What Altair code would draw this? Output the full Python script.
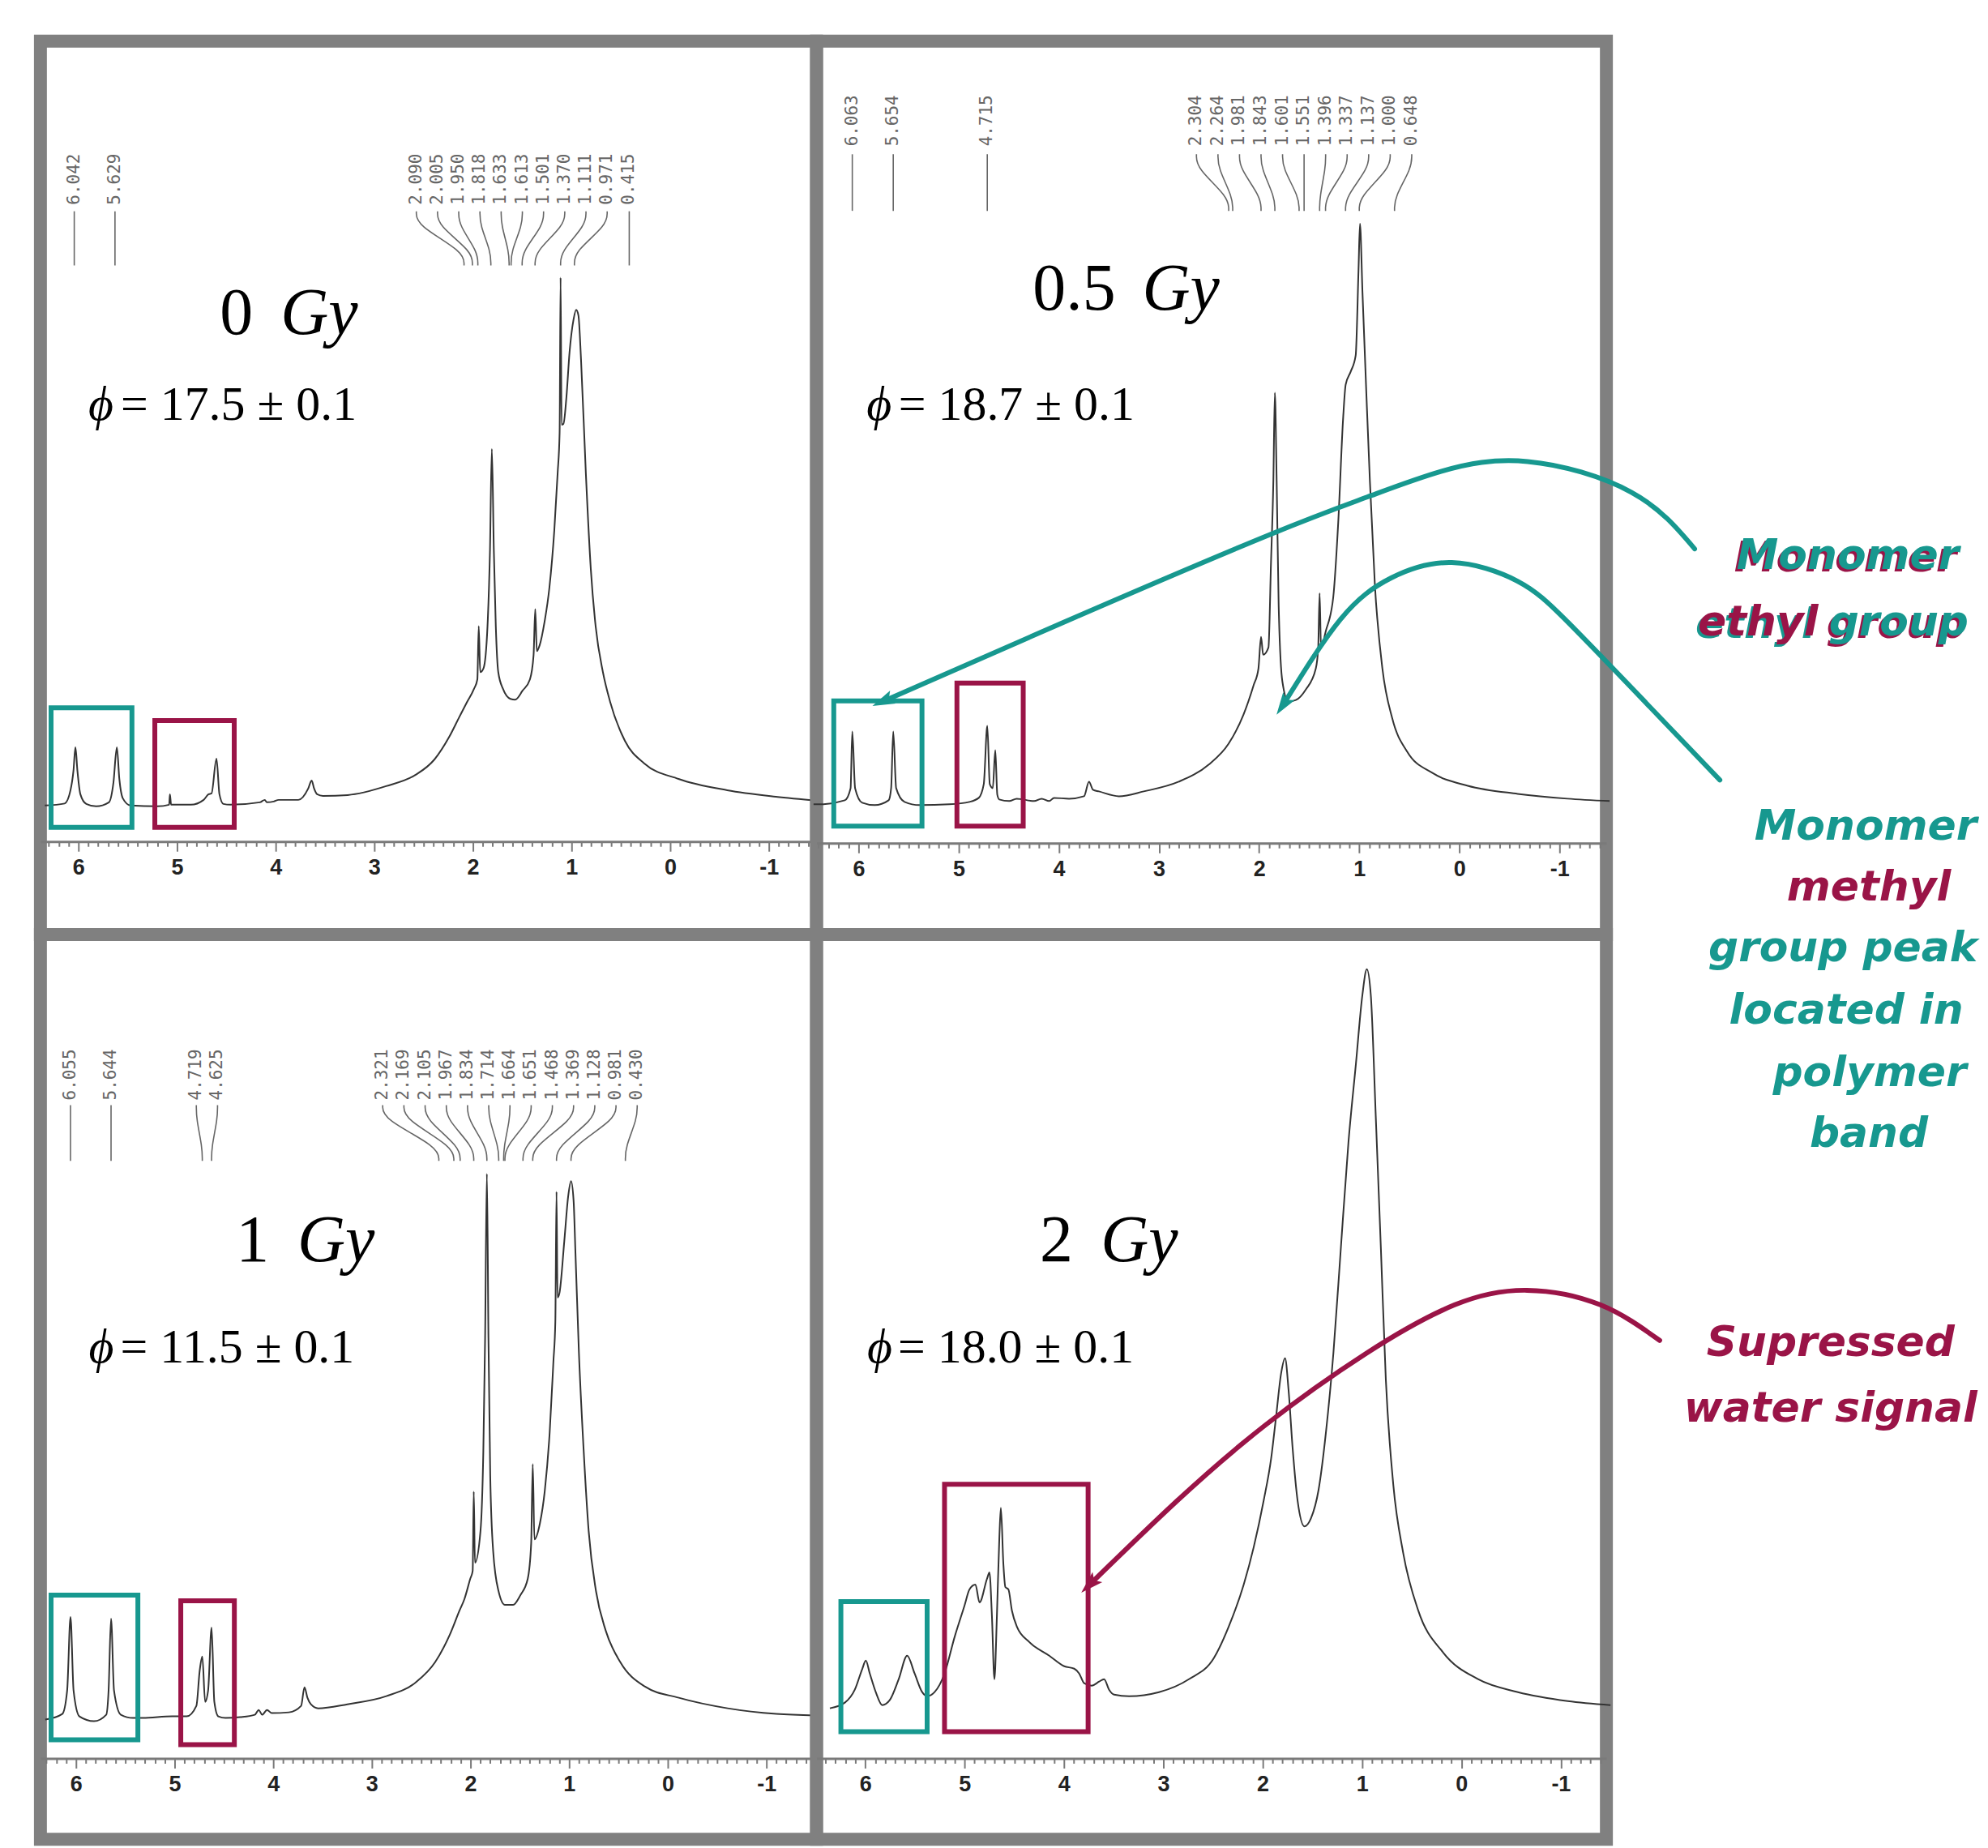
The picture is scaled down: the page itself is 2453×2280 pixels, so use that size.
import math
import pandas as pd
import altair as alt

TEAL = "#17988f"
MAROON = "#9a1447"
FRAME = "#808080"
INK = "#333333"
LABEL_GREY = "#666666"

# ---------------- spectra: (chemical shift ppm, intensity a.u.) ----------------
P1_SPECTRUM = [
    (6.34, -1), (6.14, 1.5), (6.08, 18), (6.05, 42), (6.03, 71), (6.01, 42), (5.98, 13), (5.92, 1),
    (5.82, -2), (5.69, 3), (5.645, 27), (5.61, 71), (5.585, 32), (5.55, 8), (5.47, -1), (5.20, -2),
    (5.08, 0), (5.072, 13), (5.06, 0), (4.86, 0), (4.73, 6), (4.68, 13), (4.65, 14), (4.60, 57),
    (4.57, 13), (4.53, 1), (4.46, 0), (4.16, 3), (4.11, 6), (4.09, 3), (4.02, 4), (3.97, 6),
    (3.77, 6), (3.67, 20), (3.635, 30), (3.61, 20), (3.58, 13), (3.52, 11), (3.27, 12), (2.88, 23),
    (2.58, 37), (2.39, 56), (2.24, 84), (2.14, 108), (2.06, 127), (1.99, 143), (1.955, 155),
    (1.941, 221), (1.926, 164), (1.892, 169), (1.852, 221), (1.827, 315), (1.808, 440), (1.788, 315),
    (1.768, 221), (1.743, 164), (1.694, 143), (1.62, 131), (1.571, 130), (1.497, 141), (1.422, 155),
    (1.385, 185), (1.368, 242), (1.352, 190), (1.324, 197), (1.274, 226), (1.225, 268), (1.175, 339),
    (1.141, 410), (1.121, 460), (1.111, 652), (1.101, 470), (1.082, 471), (1.052, 504), (1.02, 560),
    (0.98, 600), (0.953, 612), (0.930, 605), (0.904, 551), (0.855, 410), (0.805, 292), (0.756, 221),
    (0.682, 164), (0.608, 127), (0.459, 79), (0.262, 51), (-0.084, 32), (-0.578, 18), (-1.071, 10),
    (-1.5, 5),
]
P2_SPECTRUM = [
    (6.45, 0), (6.387, 0), (6.138, 5), (6.08, 20), (6.063, 90), (6.035, 20), (5.964, 2), (5.839, -1),
    (5.70, 5), (5.675, 20), (5.654, 90), (5.625, 20), (5.541, 3), (5.391, -1), (5.093, 0), (4.894, 3),
    (4.80, 8), (4.75, 25), (4.715, 97), (4.69, 25), (4.66, 20), (4.635, 67), (4.615, 12), (4.595, 6),
    (4.496, 4), (4.421, 7), (4.247, 4), (4.172, 7), (4.097, 4), (4.048, 8), (3.898, 7), (3.749, 10),
    (3.699, 28), (3.659, 18), (3.600, 16), (3.400, 10), (3.152, 16), (2.803, 28), (2.505, 49),
    (2.305, 75), (2.156, 111), (2.056, 147), (2.007, 168), (1.981, 207), (1.960, 185), (1.907, 194),
    (1.882, 297), (1.858, 400), (1.843, 509), (1.825, 400), (1.805, 246), (1.768, 152), (1.708, 127),
    (1.633, 129), (1.534, 142), (1.434, 168), (1.410, 194), (1.396, 261), (1.382, 194), (1.335, 214),
    (1.260, 256), (1.210, 349), (1.161, 478), (1.136, 519), (1.086, 535), (1.036, 555), (1.008, 659),
    (0.993, 718), (0.968, 633), (0.928, 504), (0.894, 400), (0.844, 271), (0.769, 168), (0.670, 106),
    (0.521, 65), (0.272, 39), (-0.084, 23), (-0.582, 13), (-1.079, 7), (-1.5, 4),
]
P3_SPECTRUM = [
    (6.311, -2), (6.138, 5), (6.089, 34), (6.055, 125), (6.024, 34), (5.965, 2), (5.817, -4),
    (5.693, 4), (5.669, 34), (5.644, 123), (5.614, 34), (5.545, 4), (5.422, 0), (5.323, 0),
    (5.026, 2), (4.878, 2), (4.779, 15), (4.745, 59), (4.719, 76), (4.690, 20), (4.660, 34),
    (4.625, 112), (4.597, 20), (4.557, 2), (4.483, 0), (4.335, 1), (4.187, 4), (4.147, 10),
    (4.112, 4), (4.063, 10), (4.014, 6), (3.841, 7), (3.717, 15), (3.683, 38), (3.653, 25),
    (3.618, 17), (3.544, 12), (3.248, 17), (2.853, 27), (2.556, 44), (2.359, 69), (2.210, 103),
    (2.111, 133), (2.062, 147), (2.003, 172), (1.978, 182), (1.967, 280), (1.955, 192), (1.899, 231),
    (1.870, 330), (1.852, 470), (1.834, 673), (1.818, 470), (1.800, 300), (1.770, 206), (1.716, 157),
    (1.651, 140), (1.568, 140), (1.494, 152), (1.420, 172), (1.385, 216), (1.369, 314), (1.352, 221),
    (1.296, 241), (1.247, 281), (1.197, 354), (1.160, 440), (1.140, 490), (1.128, 651), (1.118, 520),
    (1.099, 525), (1.049, 590), (1.010, 645), (0.981, 664), (0.955, 640), (0.936, 575), (0.901, 452),
    (0.852, 329), (0.802, 231), (0.728, 157), (0.629, 108), (0.481, 69), (0.234, 39), (-0.112, 25),
    (-0.606, 12), (-1.100, 5), (-1.5, 3),
]
P4_SPECTRUM = [
    (6.356, -4), (6.205, 3), (6.105, 19), (6.029, 45), (5.994, 55), (5.954, 39), (5.894, 16),
    (5.829, 0), (5.754, 6), (5.663, 32), (5.578, 61), (5.503, 39), (5.427, 16), (5.377, 11),
    (5.302, 16), (5.202, 39), (5.101, 84), (5.001, 123), (4.951, 143), (4.891, 149), (4.850, 127),
    (4.775, 156), (4.750, 164), (4.725, 110), (4.700, 32), (4.675, 110), (4.650, 208), (4.635, 244),
    (4.610, 175), (4.590, 146), (4.559, 143), (4.524, 117), (4.474, 97), (4.349, 78), (4.148, 61),
    (3.997, 48), (3.897, 45), (3.847, 39), (3.797, 27), (3.721, 24), (3.646, 29), (3.596, 32),
    (3.546, 19), (3.496, 13), (3.345, 11), (3.044, 16), (2.743, 32), (2.492, 58), (2.342, 97),
    (2.191, 149), (2.091, 195), (1.990, 253), (1.915, 305), (1.865, 357), (1.815, 410), (1.775, 429),
    (1.740, 390), (1.699, 318), (1.649, 253), (1.579, 221), (1.514, 231), (1.438, 266), (1.363, 338),
    (1.288, 436), (1.213, 566), (1.137, 696), (1.062, 793), (0.997, 878), (0.952, 910), (0.912, 878),
    (0.862, 728), (0.811, 566), (0.761, 403), (0.686, 273), (0.586, 188), (0.435, 117), (0.184, 65),
    (-0.167, 32), (-0.569, 16), (-1.070, 5), (-1.5, 0),
]

# ---------------- picked peaks (labels) ----------------
P1_PEAKS = [6.042, 5.629, 2.090, 2.005, 1.950, 1.818, 1.633, 1.613, 1.501, 1.370, 1.111, 0.971, 0.415]
P2_PEAKS = [6.063, 5.654, 4.715, 2.304, 2.264, 1.981, 1.843, 1.601, 1.551, 1.396, 1.337, 1.137,
            1.000, 0.648]
P3_PEAKS = [6.055, 5.644, 4.719, 4.625, 2.321, 2.169, 2.105, 1.967, 1.834, 1.714, 1.664, 1.651,
            1.468, 1.369, 1.128, 0.981, 0.430]
P4_PEAKS = []

DOSES = ["0", "0.5", "1", "2"]
PHI = ["17.5", "18.7", "11.5", "18.0"]

# highlighted regions: (ppm from, ppm to, intensity top, intensity bottom, colour)
P1_BOXES = [(6.277, 5.457, 120, -28, TEAL), (5.225, 4.42, 104, -28, MAROON)]
P2_BOXES = [(6.248, 5.367, 128, -27, TEAL), (5.018, 4.356, 150, -27, MAROON)]
P3_BOXES = [(6.252, 5.372, 152, -27, TEAL), (4.937, 4.394, 145, -33, MAROON)]
P4_BOXES = [(6.245, 5.377, 128, -33, TEAL), (5.202, 3.757, 273, -33, MAROON)]

# annotation arrows (in the coordinates of the panel they belong to)
ARROW_ETHYL = ([-2.349, -1.717, -0.682, 0.177, 0.922, 1.906, 3.826, 5.745],
               [316, 386, 424, 412, 380, 333, 232, 128])
ARROW_METHYL = ([-2.601, -1.844, -1.086, -0.581, 0.076, 0.681, 1.186, 1.755],
                [30, 128, 225, 276, 299, 280, 229, 124])
ARROW_WATER = ([-1.995, -1.397, -0.659, 0.067, 0.958, 1.976, 2.867, 3.733],
               [451, 495, 513, 495, 435, 346, 252, 150])

# annotation texts: (text, ppm, intensity, colour, shadow colour)
NOTES_P2 = [
    ("Monomer", -3.879, 307, TEAL, MAROON),
    ("ethyl", -2.983, 225, MAROON, TEAL),
    ("group", -4.387, 225, TEAL, MAROON),
    ("Monomer", -4.057, -28, TEAL, None),
    ("methyl", -4.089, -103, MAROON, None),
    ("group peak", -3.831, -178, TEAL, None),
    ("located in", -3.863, -255, TEAL, None),
    ("polymer", -4.097, -332, TEAL, None),
    ("band", -4.089, -408, TEAL, None),
]
NOTES_P4 = [
    ("Supressed", -3.715, 448, MAROON, None),
    ("water signal", -3.715, 366, MAROON, None),
]

MAJOR = "abs(datum.value - round(datum.value)) < 0.001"
ARROW_SHAPE = "M0,-1L0.55,0.75L0,0.4L-0.55,0.75Z"
LABEL_GAP = 0.215


def spread(peaks, gap):
    ps = sorted(peaks, reverse=True)
    clusters = [[p] for p in ps]

    def pos(c):
        m = sum(c) / len(c)
        n = len(c)
        return [m + (n - 1) / 2 * gap - i * gap for i in range(n)]

    changed = True
    while changed:
        changed = False
        for i in range(len(clusters) - 1):
            if pos(clusters[i])[-1] - pos(clusters[i + 1])[0] < gap - 1e-9:
                clusters[i] = clusters[i] + clusters[i + 1]
                del clusters[i + 1]
                changed = True
                break
    out = []
    for c in clusters:
        out += list(zip(c, pos(c)))
    return out


def build_panel(cfg):
    lo, hi = cfg["xdom"]
    vals = [round(k / 10, 1) for k in range(math.ceil(lo * 10), math.floor(hi * 10) + 1)]
    axis = alt.Axis(
        values=vals, title=None, grid=False, offset=cfg["offset"],
        domainColor="#7a7a7a", domainWidth=3, tickColor="#7a7a7a", tickWidth=2,
        tickSize={"condition": {"test": MAJOR, "value": 12}, "value": 6},
        labelExpr=f"{MAJOR} ? toString(round(datum.value)) : ''",
        labelFont="Liberation Sans Narrow, Liberation Sans, Arial", labelFontWeight="bold",
        labelFontSize=27, labelColor="#222222", labelPadding=7,
        labelFlush=False, labelOverlap=False,
    )
    xs = alt.Scale(domain=[lo, hi], reverse=True, nice=False, zero=False)
    ys = alt.Scale(domain=list(cfg["ydom"]), nice=False, zero=False)
    pxpp = cfg["width"] / (hi - lo)

    def X(f):
        return alt.X(f, type="quantitative", scale=xs, axis=axis)

    def Y(f):
        return alt.Y(f, type="quantitative", scale=ys, axis=None)

    layers = []
    spec = pd.DataFrame(cfg["spectrum"], columns=["ppm", "intensity"])
    layers.append(
        alt.Chart(spec).mark_line(color=INK, strokeWidth=2, interpolate="monotone").encode(
            x=X("ppm"), y=Y("intensity"), order=alt.Order("ppm", sort="descending"))
    )

    boxes = pd.DataFrame(cfg["boxes"], columns=["x1", "x2", "y1", "y2", "c"])
    layers.append(
        alt.Chart(boxes).mark_rect(filled=False, strokeWidth=6).encode(
            x=X("x1"), x2="x2", y=Y("y1"), y2="y2", stroke=alt.Stroke("c:N", scale=None))
    )

    if cfg["peaks"]:
        lab = cfg["lab"]
        lines, texts = [], []
        for k, (p, lx) in enumerate(spread(cfg["peaks"], LABEL_GAP)):
            pts = [(lx, lab["top"]), (lx, lab["b1"]), (p, lab["b2"]), (p, lab["bot"])]
            for s, (x, y) in enumerate(pts):
                lines.append({"id": k, "step": s, "lx": x, "ly": y})
            texts.append({"label": f"{p:.3f}", "tx": lx, "ty": lab["text"]})
        layers.append(
            alt.Chart(pd.DataFrame(lines)).mark_line(
                interpolate="basis", color=LABEL_GREY, strokeWidth=1.6).encode(
                x=X("lx"), y=Y("ly"), detail="id:N", order="step:Q")
        )
        layers.append(
            alt.Chart(pd.DataFrame(texts)).mark_text(
                angle=270, align="left", baseline="middle", font="DejaVu Sans Mono",
                fontSize=21, color=LABEL_GREY).encode(x=X("tx"), y=Y("ty"), text="label:N")
        )

    g = cfg["gy"]
    layers.append(
        alt.Chart(pd.DataFrame([{"x": g["num_x"], "y": g["y"], "t": cfg["dose"]}])).mark_text(
            font="Liberation Serif", fontSize=82, align="right", baseline="alphabetic",
            color="black").encode(x=X("x"), y=Y("y"), text="t:N")
    )
    layers.append(
        alt.Chart(pd.DataFrame([{"x": g["gy_x"], "y": g["y"], "t": "Gy"}])).mark_text(
            font="Liberation Serif", fontSize=82, fontStyle="italic", align="left",
            baseline="alphabetic", color="black").encode(x=X("x"), y=Y("y"), text="t:N")
    )
    f = cfg["phi_pos"]
    layers.append(
        alt.Chart(pd.DataFrame([{"x": f["sym_x"], "y": f["y"], "t": "\u03d5"}])).mark_text(
            font="Liberation Serif, DejaVu Serif", fontSize=60, fontStyle="italic", align="left",
            baseline="alphabetic", color="black").encode(x=X("x"), y=Y("y"), text="t:N")
    )
    layers.append(
        alt.Chart(pd.DataFrame([{"x": f["rest_x"], "y": f["y"],
                                 "t": f"= {cfg['phi']} \u00b1 0.1"}])).mark_text(
            font="Liberation Serif", fontSize=60, align="left", baseline="alphabetic",
            color="black").encode(x=X("x"), y=Y("y"), text="t:N")
    )

    arrows = cfg.get("arrows", [])
    if arrows:
        rows, heads = [], []
        for a, (xs_, ys_, col) in enumerate(arrows):
            for i, (x, y) in enumerate(zip(xs_, ys_)):
                rows.append({"arrow": a, "i": i, "ax": x, "ay": y, "c": col})
            dx = -(xs_[-1] - xs_[-2]) * pxpp
            dy = -(ys_[-1] - ys_[-2])
            ang = math.degrees(math.atan2(dx, -dy)) % 360
            heads.append({"hx": xs_[-1], "hy": ys_[-1], "ang": ang, "c": col})
        layers.append(
            alt.Chart(pd.DataFrame(rows)).mark_line(
                interpolate="natural", strokeWidth=6, strokeCap="round").encode(
                x=X("ax"), y=Y("ay"), detail="arrow:N", order="i:Q",
                color=alt.Color("c:N", scale=None))
        )
        layers.append(
            alt.Chart(pd.DataFrame(heads)).mark_point(
                shape=ARROW_SHAPE, filled=True, size=1000, opacity=1, strokeWidth=0).encode(
                x=X("hx"), y=Y("hy"), angle=alt.Angle("ang:Q", scale=None),
                color=alt.Color("c:N", scale=None))
        )

    notes = cfg.get("notes", [])
    if notes:
        nd = pd.DataFrame(notes, columns=["t", "nx", "ny", "c", "s"])
        sh = nd[nd["s"].notna()]
        common = dict(font="DejaVu Sans", fontSize=52, fontWeight="bold", fontStyle="italic",
                      align="center", baseline="middle")
        if len(sh):
            layers.append(
                alt.Chart(sh).mark_text(dx=-3, dy=3, **common).encode(
                    x=X("nx"), y=Y("ny"), text="t:N", color=alt.Color("s:N", scale=None))
            )
        layers.append(
            alt.Chart(nd).mark_text(**common).encode(
                x=X("nx"), y=Y("ny"), text="t:N", color=alt.Color("c:N", scale=None))
        )

    return alt.layer(*layers).properties(width=cfg["width"], height=cfg["height"])


PANEL_CFG = [
    dict(spectrum=P1_SPECTRUM, peaks=P1_PEAKS, boxes=P1_BOXES, dose=DOSES[0], phi=PHI[0],
         xdom=(-1.484, 6.385), width=960, height=1105, ydom=(-160.5, 944.5), offset=-115,
         lab=dict(text=742, top=734, b1=717, b2=684, bot=667),
         gy=dict(num_x=4.23, gy_x=3.95, y=582), phi_pos=dict(sym_x=5.90, rest_x=5.57, y=476)),
    dict(spectrum=P2_SPECTRUM, peaks=P2_PEAKS, boxes=P2_BOXES, dose=DOSES[1], phi=PHI[1],
         xdom=(-1.468, 6.42), width=977, height=1105, ydom=(-161, 944), offset=-113,
         lab=dict(text=814, top=804, b1=787, b2=751, bot=734),
         gy=dict(num_x=3.433, gy_x=3.167, y=612), phi_pos=dict(sym_x=5.92, rest_x=5.60, y=476),
         arrows=[(ARROW_ETHYL[0], ARROW_ETHYL[1], TEAL), (ARROW_METHYL[0], ARROW_METHYL[1], TEAL)],
         notes=NOTES_P2),
    dict(spectrum=P3_SPECTRUM, peaks=P3_PEAKS, boxes=P3_BOXES, dose=DOSES[2], phi=PHI[2],
         xdom=(-1.508, 6.36), width=960, height=1119, ydom=(-150, 969), offset=-100,
         lab=dict(text=764, top=758, b1=741, b2=706, bot=689),
         gy=dict(num_x=4.04, gy_x=3.755, y=565), phi_pos=dict(sym_x=5.87, rest_x=5.55, y=440)),
    dict(spectrum=P4_SPECTRUM, peaks=P4_PEAKS, boxes=P4_BOXES, dose=DOSES[3], phi=PHI[3],
         xdom=(-1.459, 6.49), width=977, height=1119, ydom=(-166, 953), offset=-100,
         lab=None,
         gy=dict(num_x=3.91, gy_x=3.63, y=549), phi_pos=dict(sym_x=5.98, rest_x=5.67, y=424),
         arrows=[(ARROW_WATER[0], ARROW_WATER[1], MAROON)],
         notes=NOTES_P4),
]

panels = [build_panel(c) for c in PANEL_CFG]

chart = alt.concat(
    *panels, columns=2, spacing=0, bounds="flush", align="each",
).properties(
    padding={"left": 42, "top": 40, "right": 4, "bottom": 0},
    background="white",
).configure_view(stroke=FRAME, strokeWidth=16)

chart.save("out.html", embed_options={"renderer": "svg", "actions": False})
